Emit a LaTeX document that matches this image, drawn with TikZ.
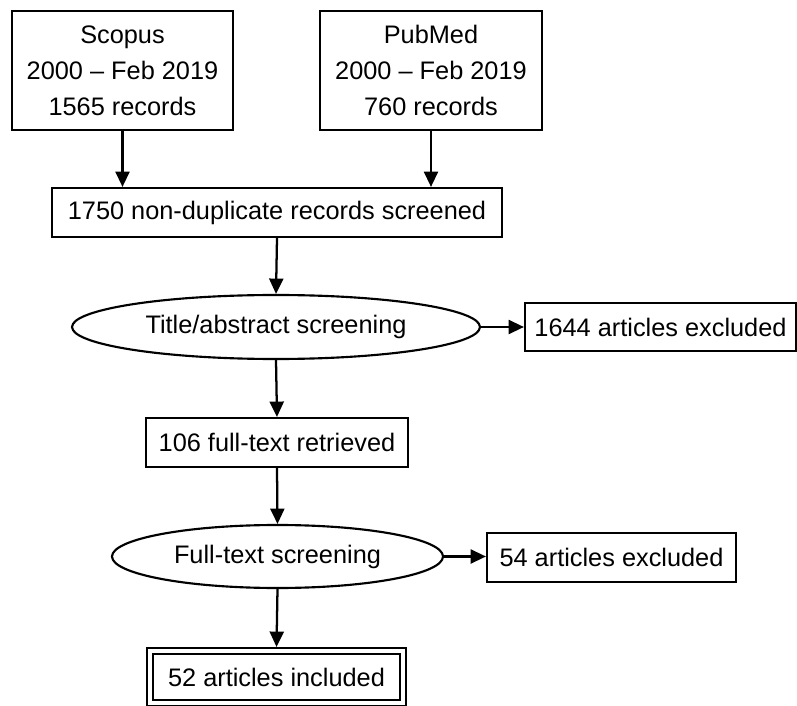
\documentclass[tikz,border=0pt]{standalone}
\usepackage{fontspec}
\setmainfont{Liberation Sans}
\usetikzlibrary{arrows.meta,shapes.geometric}
\begin{document}
\begin{tikzpicture}[x=0.75pt,y=-0.75pt,
  every node/.style={font=\fontsize{19}{27}\selectfont, line width=1.6pt, inner sep=0pt},
  box/.style={draw, rectangle, align=center},
  oval/.style={draw, ellipse},
  arr/.style={line width=1.7pt, -{Triangle[length=11.5pt,width=10.5pt]}}]
\useasboundingbox (0,0) rectangle (797,706);
\node[box, minimum width=165.75pt, minimum height=89.25pt] (scopus) at (122.5,70.5) {Scopus\\2000 \textendash{} Feb 2019\\1565 records};
\node[box, minimum width=166.5pt, minimum height=89.25pt] (pubmed) at (431,70.5) {PubMed\\2000 \textendash{} Feb 2019\\760 records};
\node[box, minimum width=337.5pt, minimum height=36.75pt] (nd) at (277,212.5) {1750 non-duplicate records screened};
\node[oval, minimum width=306pt, minimum height=48pt] (tas) at (276,327) {Title/abstract screening};
\node[box, minimum width=203.25pt, minimum height=36pt] (ex1) at (660.5,327) {1644 articles excluded};
\node[box, minimum width=196.5pt, minimum height=36.75pt] (ft) at (277,442.5) {106 full-text retrieved};
\node[oval, minimum width=248.25pt, minimum height=47.25pt] (fts) at (277.5,556.5) {Full-text screening};
\node[box, minimum width=186.75pt, minimum height=36.75pt] (ex2) at (611.5,557.5) {54 articles excluded};
\node[box, minimum width=194.25pt, minimum height=43.5pt] (incout) at (276.5,677) {};
\node[box, minimum width=185.25pt, minimum height=34.5pt] (inc) at (276.5,677) {52 articles included};
\draw[arr] (scopus.south) -- (scopus.south |- nd.north);
\draw[arr] (pubmed.south) -- (pubmed.south |- nd.north);
\draw[arr] (nd.south) -- (tas.north);
\draw[arr] (tas.east) -- (ex1.west);
\draw[arr] (tas.south) -- (ft.north);
\draw[arr] (ft.south) -- (fts.north);
\draw[arr] (fts.east) -- (fts.east -| ex2.west);
\draw[arr] (fts.south) -- (incout.north);
\end{tikzpicture}
\end{document}
